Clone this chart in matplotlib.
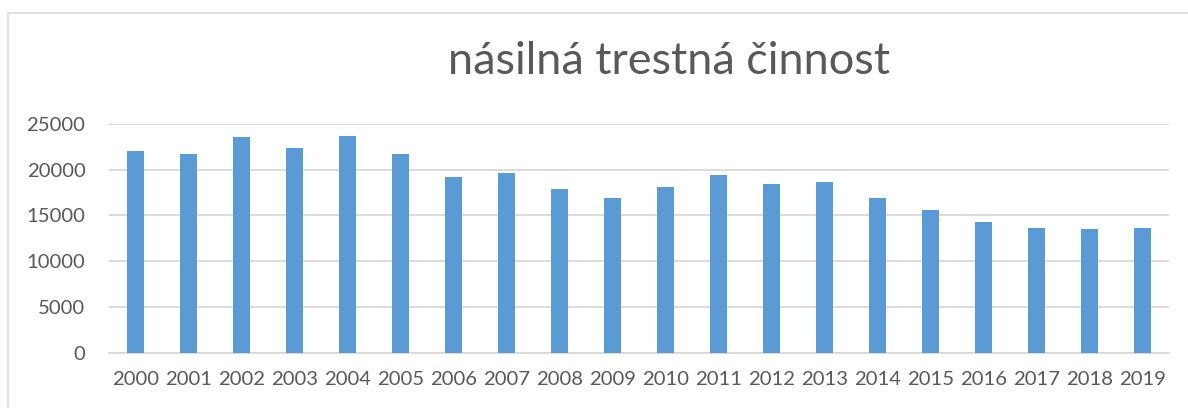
import matplotlib
matplotlib.use("Agg")
import matplotlib.pyplot as plt
from matplotlib.patches import Rectangle

years = [str(y) for y in range(2000, 2020)]
counts = [22050, 21750, 23600, 22400, 23650, 21750, 19250, 19600, 17900, 16900,
          18100, 19450, 18400, 18700, 16950, 15650, 14250, 13650, 13550, 13600]
title = "násilná trestná činnost"

plt.rcParams['font.family'] = ['Lato', 'DejaVu Sans']
text_color = '#595959'
grid_color = '#d9d9d9'
bar_color = '#5b9bd5'

W, H = 1188, 408
fig = plt.figure(figsize=(W / 100, H / 100), dpi=100)

# chart border (runs off the right/bottom edge like the reference)
fig.patches.append(Rectangle((8 / W, -0.1), 1.2, (H - 13) / H + 0.1,
                             transform=fig.transFigure, fill=False,
                             edgecolor=grid_color, linewidth=1.2))

left, right, top, bottom = 109, 1169, 124, 352.7
ax = fig.add_axes([left / W, (H - bottom) / H, (right - left) / W, (bottom - top) / H])

x = range(len(years))
ax.bar(x, counts, width=0.32, color=bar_color, zorder=3)

ax.set_xlim(-0.5, len(years) - 0.5)
ax.set_ylim(0, 25000)
ax.set_yticks(range(0, 25001, 5000))
ax.set_xticks(list(x))
ax.set_xticklabels(years)

ax.yaxis.grid(True, color=grid_color, linewidth=1.3)
ax.set_axisbelow(True)
for s in ['top', 'right', 'left']:
    ax.spines[s].set_visible(False)
ax.spines['bottom'].set_color(grid_color)
ax.spines['bottom'].set_linewidth(1.3)

ax.tick_params(axis='both', length=0, labelsize=14.6, labelcolor=text_color)
ax.tick_params(axis='y', pad=17)
ax.tick_params(axis='x', pad=13)

fig.text((450 + 887) / 2 / W, 1 - 62 / H, title, ha='center', va='center',
         fontsize=32.4, color=text_color, fontweight='normal')

fig.savefig("out.png", dpi=100)
